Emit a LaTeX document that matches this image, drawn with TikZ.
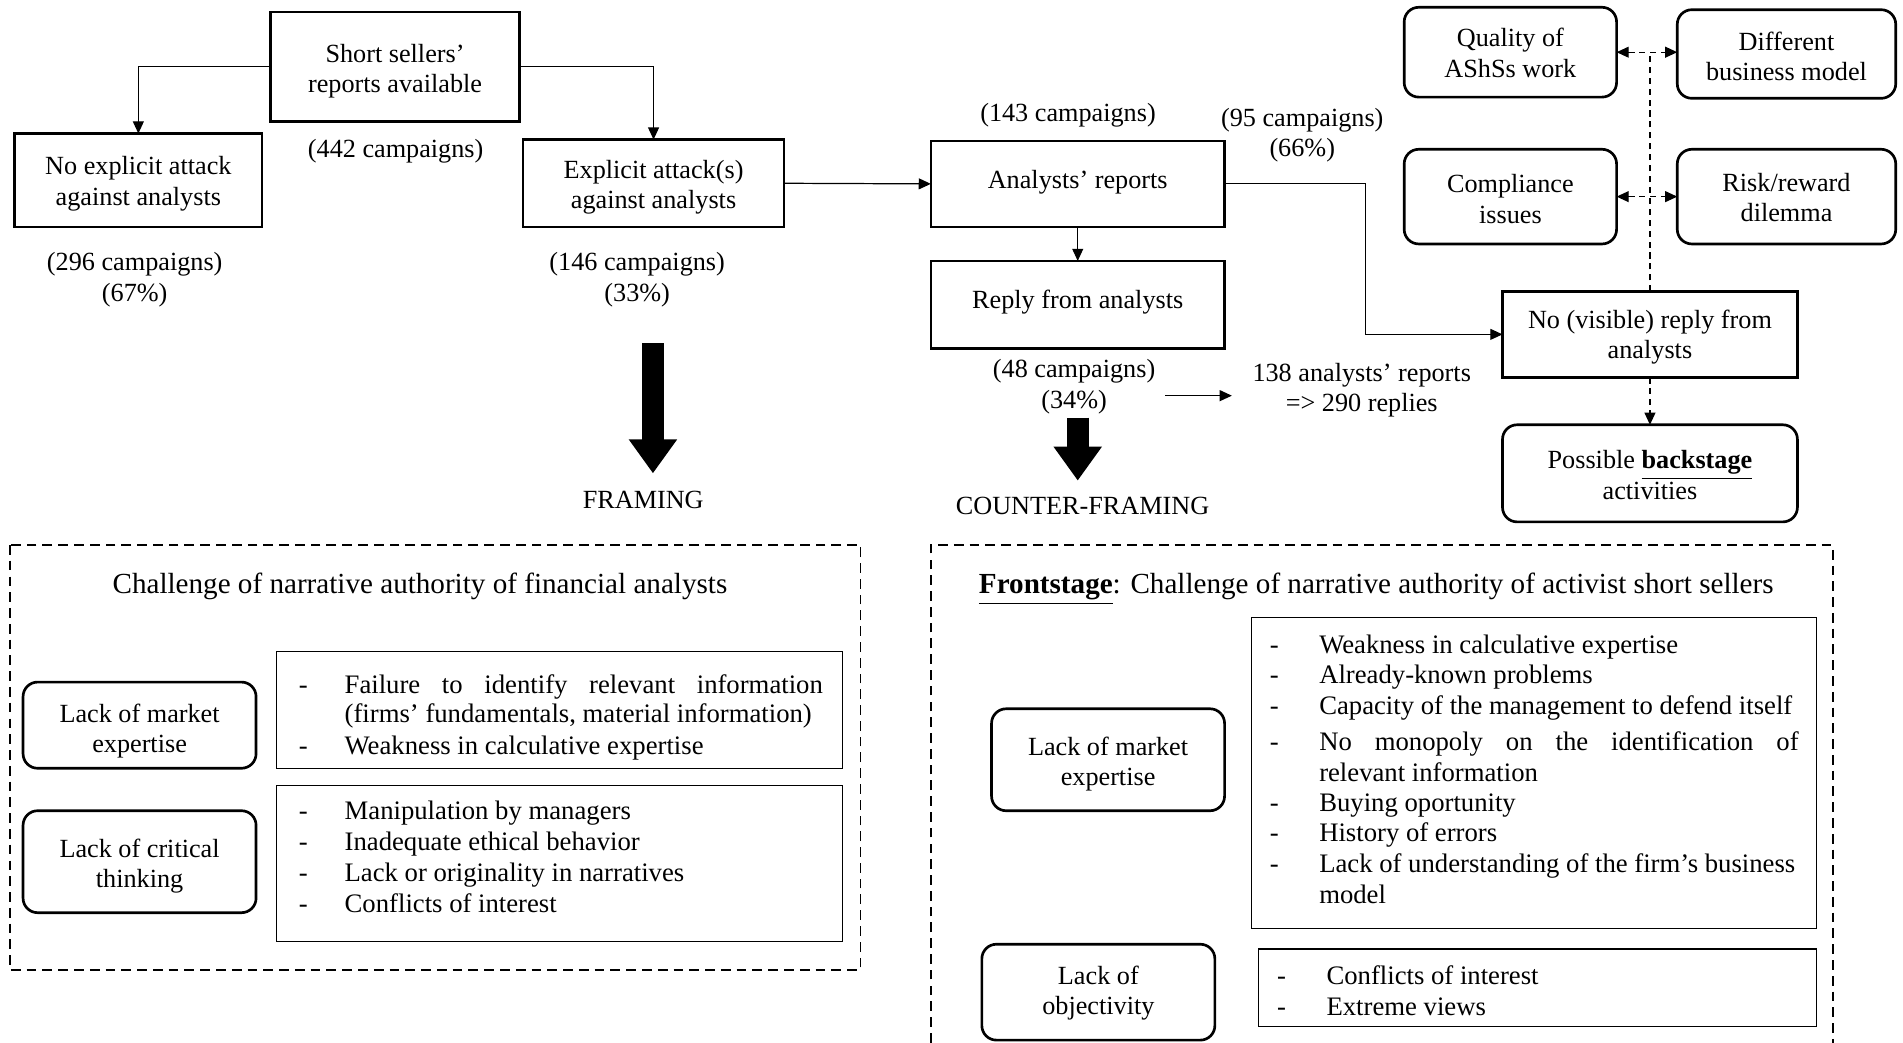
\documentclass[tikz,border=0pt]{standalone}
\usepackage{fontspec}
\setmainfont{Liberation Serif}
\usetikzlibrary{arrows.meta,calc}
\begin{document}
\begin{tikzpicture}[x=0.5pt,y=-0.5pt,
  every node/.style={font=\fontsize{10.8}{12.5}\selectfont, inner sep=0pt, outer sep=0pt},
  box/.style={draw, line width=1pt},
  rbox/.style={draw, line width=1.1pt, rounded corners=6pt},
  lbox/.style={draw, line width=0.5pt},
  txt/.style={align=center},
  ttl/.style={anchor=base, font=\fontsize{12}{14}\selectfont},
  arr/.style={line width=0.5pt, -{Triangle[length=5pt,width=4.5pt]}},
  dline/.style={line width=0.5pt, dash pattern=on 2.5pt off 2pt},
  darr/.style={dline, {Triangle[length=5pt,width=4.5pt]}-{Triangle[length=5pt,width=4.5pt]}},
  dsarr/.style={dline, -{Triangle[length=5pt,width=4.5pt]}},
  frame/.style={line width=0.8pt, dash pattern=on 4pt off 2.5pt},
  big/.style={line width=9pt, -{Triangle[length=14pt,width=19pt]}},
  dsh/.style={anchor=base, font=\fontsize{11}{13}\selectfont},
  itm/.style={anchor=base west, font=\fontsize{11}{13}\selectfont},
]
\useasboundingbox (0,0) rectangle (1568,859);

% ---------- top flow ----------
\node[box, minimum width=102.5pt, minimum height=45pt] (ss) at (325.5,55) {};
\node[txt] (ss-t) at (325.5,58.5) {Short sellers'\\reports available};
\node[txt] (n442) at (326,125) {(442 campaigns)};
\node[box, minimum width=102pt, minimum height=38.5pt] (noatt) at (114,148.5) {};
\node[txt] (noatt-t) at (114,151.5) {No explicit attack\\against analysts};
\node[box, minimum width=107.5pt, minimum height=36pt] (att) at (538.5,151) {};
\node[txt] (att-t) at (538.5,154.5) {Explicit attack(s)\\against analysts};
\node[txt] (n296) at (111,230.5) {(296 campaigns)\\(67\%)};
\node[txt] (n146) at (525,230.5) {(146 campaigns)\\(33\%)};

\draw[arr] (ss.west) -| (noatt.north);
\draw[arr] (ss.east) -| (att.north);

\node[txt] (n143) at (880,95) {(143 campaigns)};
\node[box, minimum width=121pt, minimum height=35.5pt] (ar) at (888,151.5) {};
\node[txt] (ar-t) at (888,150) {Analysts' reports};
\node[box, minimum width=121pt, minimum height=36pt] (rep) at (888,251) {};
\node[txt] (rep-t) at (888,249) {Reply from analysts};
\node[txt] (n48) at (885,318.5) {(48 campaigns)\\(34\%)};
\node[txt] (n138) at (1122,321.5) {138 analysts' reports\\=> 290 replies};
\node[txt] (n95) at (1073,111.5) {(95 campaigns)\\(66\%)};

\draw[arr] (att.east) -- (ar.west);
\draw[arr] (ar.south) -- (rep.north);
\coordinate (a1) at (960,326);
\coordinate (a2) at (1015,326);
\draw[arr] (a1) -- (a2);

\node[box, minimum width=121.5pt, minimum height=35.5pt] (nvr) at (1359.5,275.5) {};
\node[txt] (nvr-t) at (1359.5,277.5) {No (visible) reply from\\analysts};
\node[rbox, minimum width=121.5pt, minimum height=40pt] (pb) at (1359.5,390) {};
\node[txt] (pb-t) at (1359.5,391.5) {Possible \underline{\textbf{backstage}}\\activities};
\coordinate (bend) at (1125,0);
\draw[arr] (ar.east) -- (ar.east -| bend) |- (nvr.west);
\draw[dsarr] (nvr.south) -- (pb.north);

\node[rbox, minimum width=87.5pt, minimum height=37pt] (q) at (1244.5,43) {};
\node[txt] (q-t) at (1244.5,43.5) {Quality of\\AShSs work};
\node[rbox, minimum width=90pt, minimum height=36.5pt] (db) at (1472,44.5) {};
\node[txt] (db-t) at (1472,46.5) {Different\\business model};
\node[rbox, minimum width=87.5pt, minimum height=39pt] (ci) at (1244.5,162) {};
\node[txt] (ci-t) at (1244.5,164) {Compliance\\issues};
\node[rbox, minimum width=90pt, minimum height=39pt] (rr) at (1472,162) {};
\node[txt] (rr-t) at (1472,163) {Risk/reward\\dilemma};
\draw[dline] (nvr.north) -- (nvr.north |- q.east);
\draw[darr] (q.east) -- (q.east -| db.west);
\draw[darr] (ci.east) -- (ci.east -| rr.west);

% big arrows
\draw[big] (538,283) -- (538,390);
\node[txt] (fr) at (530,412) {FRAMING};
\draw[big] (888,344) -- (888,396);
\node[txt] (cfr) at (892,417) {COUNTER-FRAMING};

% ---------- bottom left ----------
\draw[frame] (8,449) rectangle (709,799);
\node[ttl] (t1) at (346,489) {Challenge of narrative authority of financial analysts};
\node[rbox, minimum width=96pt, minimum height=35.5pt] (lme1) at (115,597.5) {};
\node[txt] (lme1-t) at (115,602.5) {Lack of market\\expertise};
\node[lbox, minimum width=233pt, minimum height=48pt] (l1) at (461,585) {};
\node[dsh] at (250,571.5) {-};
\node[itm] at (284,571.5) {\makebox[197pt][s]{Failure to identify relevant information}};
\node[itm] at (284,595.5) {(firms' fundamentals, material information)};
\node[dsh] at (250,621.5) {-};
\node[itm] at (284,621.5) {Weakness in calculative expertise};

\node[rbox, minimum width=96pt, minimum height=42pt] (lct) at (115,710) {};
\node[txt] (lct-t) at (115,713.5) {Lack of critical\\thinking};
\node[lbox, minimum width=233pt, minimum height=64.5pt] (l2) at (461,711.5) {};
\foreach \yy/\tt in {675.5/Manipulation by managers, 700.5/Inadequate ethical behavior, 726.5/Lack or originality in narratives, 751.5/Conflicts of interest}{
  \node[dsh] at (250,\yy) {-};
  \node[itm] at (284,\yy) {\tt};
}

% ---------- bottom right ----------
\draw[frame] (767,859) -- (767,449) -- (1510,449) -- (1510,859);
\node[ttl] (t2) at (1134,489) {\underline{\textbf{Frontstage}}: Challenge of narrative authority of activist short sellers};
\node[rbox, minimum width=96pt, minimum height=42pt] (lme2) at (913,626) {};
\node[txt] (lme2-t) at (913,629.5) {Lack of market\\expertise};
\node[lbox, minimum width=233pt, minimum height=128pt] (l3) at (1264,637) {};
\foreach \yy/\tt in {538.5/Weakness in calculative expertise, 563.5/Already-known problems, 588.5/Capacity of the management to defend itself, 668.5/Buying oportunity, 693.5/History of errors}{
  \node[dsh] at (1050,\yy) {-};
  \node[itm] at (1087,\yy) {\tt};
}
\node[dsh] at (1050,618.5) {-};
\node[itm] at (1087,618.5) {\makebox[197.5pt][s]{No monopoly on the identification of}};
\node[itm] at (1087,643.5) {relevant information};
\node[dsh] at (1050,718.5) {-};
\node[itm] at (1087,718.5) {Lack of understanding of the firm's business};
\node[itm] at (1087,744.5) {model};

\node[rbox, minimum width=96pt, minimum height=39.5pt] (lo) at (905,817.5) {};
\node[txt] (lo-t) at (905,818.5) {Lack of\\objectivity};
\node[lbox, minimum width=230pt, minimum height=32pt] (l4) at (1267,814) {};
\node[dsh] at (1056,811.5) {-};
\node[itm] at (1093,811.5) {Conflicts of interest};
\node[dsh] at (1056,836.5) {-};
\node[itm] at (1093,836.5) {Extreme views};
\end{tikzpicture}
\end{document}
